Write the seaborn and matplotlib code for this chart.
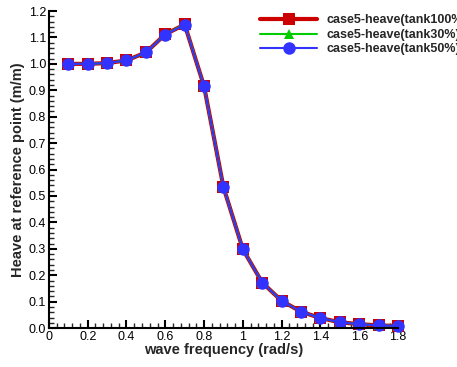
import matplotlib
matplotlib.use("Agg")
import matplotlib.pyplot as plt
from matplotlib.ticker import MultipleLocator, FormatStrFormatter
import seaborn as sns
import pandas as pd

freq = [0.1, 0.2, 0.3, 0.4, 0.5, 0.6, 0.7, 0.8, 0.9, 1.0, 1.1, 1.2, 1.3, 1.4, 1.5, 1.6, 1.7, 1.8]
tank100 = [1.000, 1.000, 1.003, 1.013, 1.043, 1.112, 1.149, 0.915, 0.533, 0.298, 0.172, 0.103, 0.062, 0.038, 0.022, 0.015, 0.010, 0.008]
tank30 = [1.000, 1.000, 1.003, 1.013, 1.043, 1.112, 1.150, 0.915, 0.533, 0.298, 0.172, 0.103, 0.062, 0.038, 0.022, 0.015, 0.010, 0.008]
tank50 = [1.000, 1.000, 1.003, 1.013, 1.043, 1.111, 1.148, 0.915, 0.533, 0.298, 0.172, 0.103, 0.062, 0.038, 0.022, 0.015, 0.010, 0.008]
labels = ["case5-heave(tank100%)", "case5-heave(tank30%)", "case5-heave(tank50%)"]

sns.set_theme(style="white")
plt.rcParams['font.family'] = ['Liberation Sans', 'DejaVu Sans']

fig = plt.figure(figsize=(4.57, 3.67), dpi=100)
ax = fig.add_axes([0.107, 0.106, 0.764, 0.864])

styles = [
    (tank100, labels[0], "#cc0000", "s", 3.0, 8),
    (tank30, labels[1], "#00cc00", "^", 1.5, 7),
    (tank50, labels[2], "#3333ff", "o", 1.5, 9),
]
for vals, lab, col, mk, lw, ms in styles:
    df = pd.DataFrame({"freq": freq, "val": vals})
    sns.lineplot(data=df, x="freq", y="val", ax=ax, color=col, marker=mk,
                 linewidth=lw, markersize=ms, markeredgewidth=0, label=lab,
                 clip_on=False)

ax.set_xlim(0, 1.8)
ax.set_ylim(0, 1.2)
ax.xaxis.set_major_locator(MultipleLocator(0.2))
ax.xaxis.set_minor_locator(MultipleLocator(0.04))
ax.yaxis.set_major_locator(MultipleLocator(0.1))
ax.yaxis.set_minor_locator(MultipleLocator(0.02))
ax.yaxis.set_major_formatter(FormatStrFormatter('%.1f'))
ax.set_xticks([0, 0.2, 0.4, 0.6, 0.8, 1.0, 1.2, 1.4, 1.6, 1.8])
ax.set_xticklabels(["0", "0.2", "0.4", "0.6", "0.8", "1", "1.2", "1.4", "1.6", "1.8"])
ax.tick_params(which='major', direction='in', length=6, width=1.5, labelsize=9, colors='black', pad=2,
               bottom=True, left=True)
ax.tick_params(which='minor', direction='in', length=3.5, width=1.0, bottom=True, left=True)
for s in ['top', 'right']:
    ax.spines[s].set_visible(False)
for s in ['left', 'bottom']:
    ax.spines[s].set_color('black')
    ax.spines[s].set_linewidth(1.5)

ax.set_xlabel("wave frequency (rad/s)", fontsize=10.5, fontweight='bold', labelpad=0)
ax.set_ylabel("Heave at reference point (m/m)", fontsize=10.5, fontweight='bold', labelpad=3)

leg = ax.legend(loc='upper left', bbox_to_anchor=(0.59, 1.005), frameon=False,
                prop={'weight': 'bold', 'size': 9}, handlelength=4.6,
                labelspacing=0.2, handletextpad=0.7, borderaxespad=0)

fig.savefig("out.png", dpi=100)
